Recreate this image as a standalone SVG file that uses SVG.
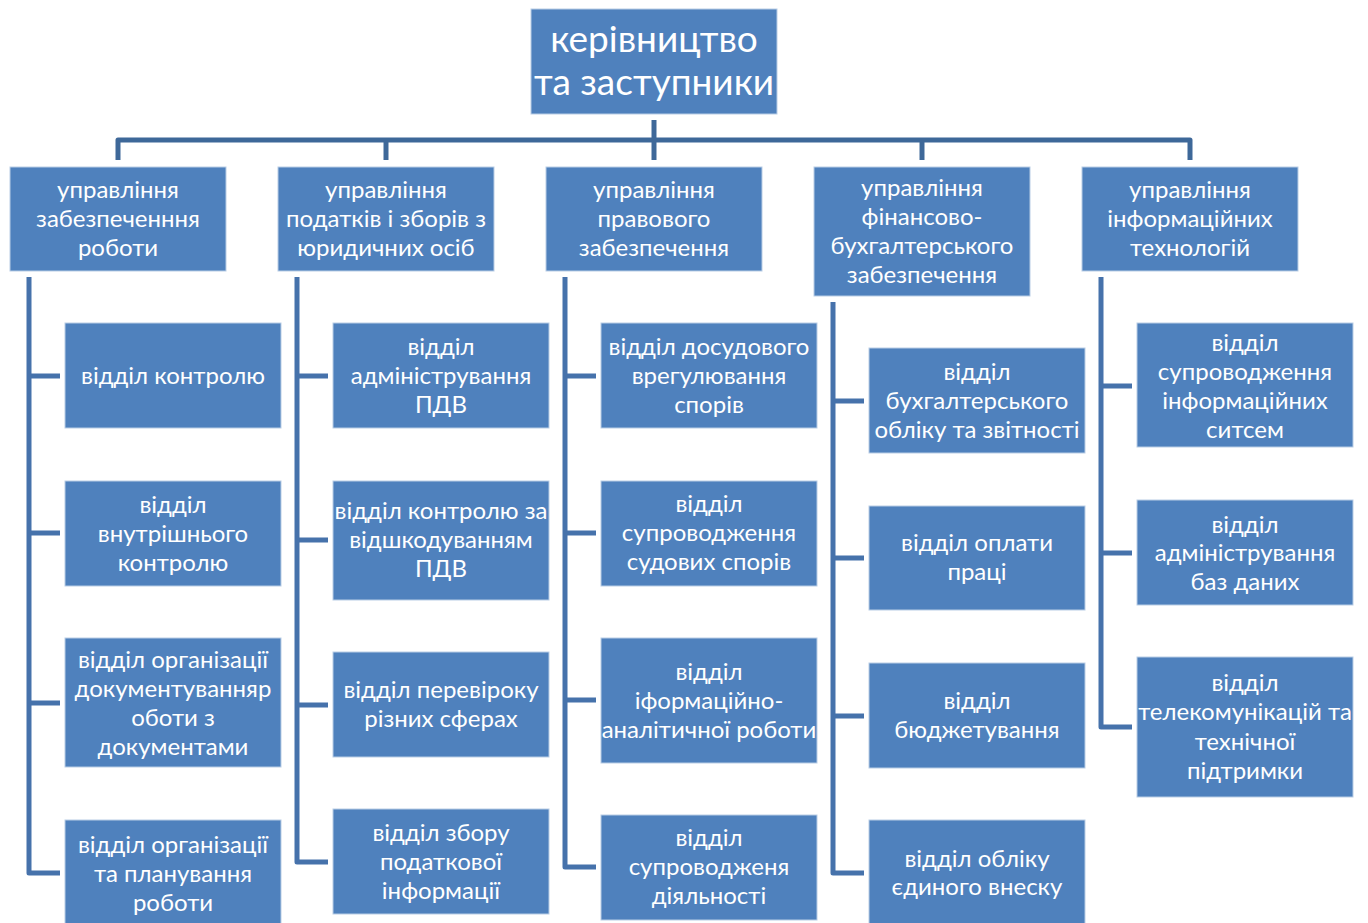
<svg xmlns="http://www.w3.org/2000/svg" width="1368" height="923" viewBox="0 0 1368 923">
<style>
.box{fill:#4F81BD;stroke:#B9CDE5;stroke-width:1}
.t{fill:#FFFFFF;font-family:Lato,"Noto Sans","DejaVu Sans",sans-serif;font-size:24px;text-anchor:middle}
.tt{fill:#FFFFFF;font-family:Lato,"Noto Sans","DejaVu Sans",sans-serif;font-size:37px;text-anchor:middle}
.c{fill:none;stroke:#4672AB;stroke-width:5;stroke-linejoin:round}
.bus{fill:none;stroke:#3E6899;stroke-width:5;stroke-linejoin:round}
</style>
<rect width="1368" height="923" fill="#FFFFFF"/>
<g id="connectors">
<path class="bus" d="M118,160 V140 H1190 V160"/>
<path class="bus" d="M654,120 V160"/>
<path class="bus" d="M386,140 V160"/>
<path class="bus" d="M922,140 V160"/>
<path class="c" d="M29,277 V873 H60 M29,376 H60 M29,533 H60 M29,703 H60"/>
<path class="c" d="M297,277 V862 H328 M297,376 H328 M297,540 H328 M297,705 H328"/>
<path class="c" d="M565,277 V867 H596 M565,376 H596 M565,533 H596 M565,700 H596"/>
<path class="c" d="M833,302 V873 H864 M833,401 H864 M833,558 H864 M833,716 H864"/>
<path class="c" d="M1101,277 V727 H1132 M1101,386 H1132 M1101,553 H1132"/>
</g>
<g id="top"><rect class="box" x="531" y="9" width="246" height="105"/><text class="tt" x="654" y="52">керівництво</text><text class="tt" x="654" y="95">та заступники</text></g>
<g id="m1"><rect class="box" x="10" y="167" width="216" height="104"/><text class="t" x="118" y="198">управління</text><text class="t" x="118" y="227">забезпеченння</text><text class="t" x="118" y="256">роботи</text></g>
<g id="m2"><rect class="box" x="278" y="167" width="216" height="104"/><text class="t" x="386" y="198">управління</text><text class="t" x="386" y="227">податків і зборів з</text><text class="t" x="386" y="256">юридичних осіб</text></g>
<g id="m3"><rect class="box" x="546" y="167" width="216" height="104"/><text class="t" x="654" y="198">управління</text><text class="t" x="654" y="227">правового</text><text class="t" x="654" y="256">забезпечення</text></g>
<g id="m4"><rect class="box" x="814" y="167" width="216" height="129"/><text class="t" x="922" y="196">управління</text><text class="t" x="922" y="225">фінансово-</text><text class="t" x="922" y="254">бухгалтерського</text><text class="t" x="922" y="283">забезпечення</text></g>
<g id="m5"><rect class="box" x="1082" y="167" width="216" height="104"/><text class="t" x="1190" y="198">управління</text><text class="t" x="1190" y="227">інформаційних</text><text class="t" x="1190" y="256">технологій</text></g>

<g id="c1a"><rect class="box" x="65" y="323" width="216" height="105"/><text class="t" x="173" y="384">відділ контролю</text></g>
<g id="c1b"><rect class="box" x="65" y="481" width="216" height="105"/><text class="t" x="173" y="513">відділ</text><text class="t" x="173" y="542">внутрішнього</text><text class="t" x="173" y="571">контролю</text></g>
<g id="c1c"><rect class="box" x="65" y="638" width="216" height="129"/><text class="t" x="173" y="668">відділ організації</text><text class="t" x="173" y="697">документуванняр</text><text class="t" x="173" y="726">оботи з</text><text class="t" x="173" y="755">документами</text></g>
<g id="c1d"><rect class="box" x="65" y="820" width="216" height="106"/><text class="t" x="173" y="853">відділ організації</text><text class="t" x="173" y="882">та планування</text><text class="t" x="173" y="911">роботи</text></g>

<g id="c2a"><rect class="box" x="333" y="323" width="216" height="105"/><text class="t" x="441" y="355">відділ</text><text class="t" x="441" y="384">адміністрування</text><text class="t" x="441" y="413">ПДВ</text></g>
<g id="c2b"><rect class="box" x="333" y="481" width="216" height="119"/><text class="t" x="441" y="519">відділ контролю за</text><text class="t" x="441" y="548">відшкодуванням</text><text class="t" x="441" y="577">ПДВ</text></g>
<g id="c2c"><rect class="box" x="333" y="652" width="216" height="105"/><text class="t" x="441" y="698">відділ перевіроку</text><text class="t" x="441" y="727">різних сферах</text></g>
<g id="c2d"><rect class="box" x="333" y="809" width="216" height="105"/><text class="t" x="441" y="841">відділ збору</text><text class="t" x="441" y="870">податкової</text><text class="t" x="441" y="899">інформації</text></g>

<g id="c3a"><rect class="box" x="601" y="323" width="216" height="105"/><text class="t" x="709" y="355">відділ досудового</text><text class="t" x="709" y="384">врегулювання</text><text class="t" x="709" y="413">спорів</text></g>
<g id="c3b"><rect class="box" x="601" y="481" width="216" height="105"/><text class="t" x="709" y="512">відділ</text><text class="t" x="709" y="541">супроводження</text><text class="t" x="709" y="570">судових спорів</text></g>
<g id="c3c"><rect class="box" x="601" y="638" width="216" height="125"/><text class="t" x="709" y="680">відділ</text><text class="t" x="709" y="709">іформаційно-</text><text class="t" x="709" y="738">аналітичної роботи</text></g>
<g id="c3d"><rect class="box" x="601" y="815" width="216" height="105"/><text class="t" x="709" y="846">відділ</text><text class="t" x="709" y="875">супроводженя</text><text class="t" x="709" y="904">діяльності</text></g>

<g id="c4a"><rect class="box" x="869" y="348" width="216" height="105"/><text class="t" x="977" y="380">відділ</text><text class="t" x="977" y="409">бухгалтерського</text><text class="t" x="977" y="438">обліку та звітності</text></g>
<g id="c4b"><rect class="box" x="869" y="506" width="216" height="104"/><text class="t" x="977" y="551">відділ оплати</text><text class="t" x="977" y="580">праці</text></g>
<g id="c4c"><rect class="box" x="869" y="663" width="216" height="105"/><text class="t" x="977" y="709">відділ</text><text class="t" x="977" y="738">бюджетування</text></g>
<g id="c4d"><rect class="box" x="869" y="820" width="216" height="106"/><text class="t" x="977" y="867">відділ обліку</text><text class="t" x="977" y="895">єдиного внеску</text></g>

<g id="c5a"><rect class="box" x="1137" y="323" width="216" height="124"/><text class="t" x="1245" y="351">відділ</text><text class="t" x="1245" y="380">супроводження</text><text class="t" x="1245" y="409">інформаційних</text><text class="t" x="1245" y="438">ситсем</text></g>
<g id="c5b"><rect class="box" x="1137" y="500" width="216" height="105"/><text class="t" x="1245" y="533">відділ</text><text class="t" x="1245" y="561">адміністрування</text><text class="t" x="1245" y="590">баз даних</text></g>
<g id="c5c"><rect class="box" x="1137" y="657" width="216" height="140"/><text class="t" x="1245" y="691">відділ</text><text class="t" x="1245" y="720">телекомунікацій та</text><text class="t" x="1245" y="750">технічної</text><text class="t" x="1245" y="779">підтримки</text></g>
</svg>
